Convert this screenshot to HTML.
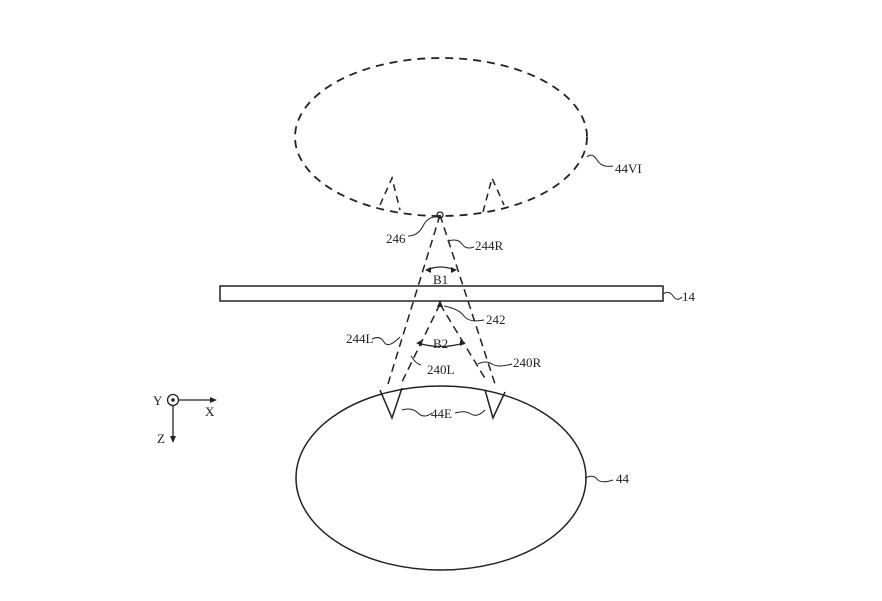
<!DOCTYPE html>
<html><head><style>body{margin:0;background:#fff}svg{display:block}text{font-family:"Liberation Serif",serif;font-size:13px;fill:#222}</style></head><body>
<svg width="882" height="601" viewBox="0 0 882 601" xmlns="http://www.w3.org/2000/svg">
<g fill="none" stroke="#222" stroke-width="1.8">
<ellipse cx="441" cy="137" rx="146" ry="79" stroke-dasharray="8,6"/>
<path d="M380,205 L392,178 L400,210 M483,212 L492,178 L504,205" stroke-dasharray="7,5" stroke-width="1.5"/>
<circle cx="440" cy="215" r="3" stroke-width="1.3"/>
<path d="M440,215 L388,384 M440,215 L495,384" stroke-dasharray="8,5" stroke-width="1.5"/>
<path d="M440,304 L400,386 M440,304 L486,380" stroke-dasharray="8,5" stroke-width="1.5"/>
<rect x="220" y="286" width="443" height="15" stroke-width="1.5"/>
<ellipse cx="441" cy="478" rx="145" ry="92" stroke-width="1.5"/>
<path d="M380,390 L392,418 L402,388 M485,390 L493,418 L505,392" stroke-width="1.5"/>
<path d="M427,270 Q440,264 455,270" stroke-width="1.3"/>
<path d="M418,343 Q440,350 464,343" stroke-width="1.3"/>
<circle cx="173" cy="400" r="5.5" stroke-width="1.3"/>
<path d="M178,400 L215,400 M173,406 L173,441" stroke-width="1.3"/>
</g>
<g fill="#222"><circle cx="173" cy="400" r="1.8"/>
<path d="M217,400 l-7,-3 v6z M173,443 l-3,-7 h6z M440,300 l-3,7 h6z"/>
<path d="M425,270 l6,-3 v6z M457,270 l-6,-3 v6z M416,343 l6,-3 v6z M466,343 l-6,-3 v6z"/>
</g>
<g fill="none" stroke="#222" stroke-width="1">
<path d="M587,157 q5,-5 10,3 t16,6"/>
<path d="M663,294 q6,-4 10,2 t9,1"/>
<path d="M408,236 q10,0 15,-10 t15,-9"/>
<path d="M448,241 q10,-3 14,3 t12,3"/>
<path d="M444,306 q15,3 20,10 t20,4"/>
<path d="M372,339 q8,-4 12,3 t16,-5"/>
<path d="M411,356 q5,8 10,9"/>
<path d="M478,364 q8,-4 14,0 t20,0"/>
<path d="M402,410 q10,-3 16,3 t14,0 M455,413 q10,-3 16,1 t14,-4"/>
<path d="M585,478 q8,-4 12,1 t16,1"/>
</g>
<text x="615" y="173">44VI</text>
<text x="682" y="301">14</text>
<text x="386" y="243">246</text>
<text x="475" y="250">244R</text>
<text x="433" y="284">B1</text>
<text x="486" y="324">242</text>
<text x="346" y="343">244L</text>
<text x="433" y="348">B2</text>
<text x="513" y="367">240R</text>
<text x="427" y="374">240L</text>
<text x="431" y="418">44E</text>
<text x="616" y="483">44</text>
<text x="153" y="405">Y</text>
<text x="205" y="416">X</text>
<text x="157" y="443">Z</text>
</svg>
</body></html>
